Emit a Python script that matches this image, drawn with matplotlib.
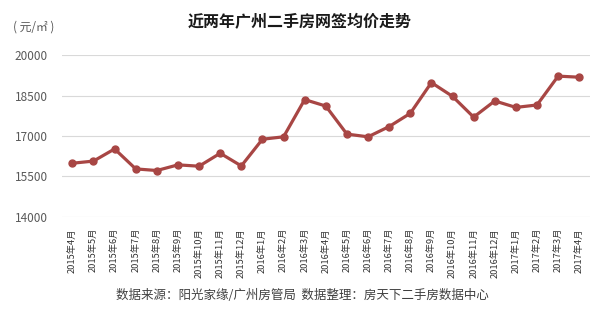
import matplotlib.pyplot as plt

plt.rcParams['font.family'] = ['Noto Sans CJK SC', 'DejaVu Sans']

months = ['2015年4月', '2015年5月', '2015年6月', '2015年7月', '2015年8月', '2015年9月',
          '2015年10月', '2015年11月', '2015年12月', '2016年1月', '2016年2月', '2016年3月',
          '2016年4月', '2016年5月', '2016年6月', '2016年7月', '2016年8月', '2016年9月',
          '2016年10月', '2016年11月', '2016年12月', '2017年1月', '2017年2月', '2017年3月',
          '2017年4月']
price = [15990, 16070, 16520, 15780, 15720, 15930, 15880, 16360, 15890, 16880, 16970,
         18350, 18110, 17070, 16970, 17350, 17840, 18980, 18470, 17700, 18300, 18060,
         18150, 19220, 19180]
yticks = [14000, 15500, 17000, 18500, 20000]

fig = plt.figure(figsize=(6, 3.13), dpi=100)
ax = fig.add_axes([0.103, 0.307, 0.880, 0.517])

x = list(range(len(months)))
ax.plot(x, price, color='#A84644', lw=2.3, marker='o', ms=5, zorder=3)

ax.set_xlim(-0.5, len(months) - 0.5)
ax.set_ylim(14000, 20000)
ax.set_yticks(yticks)
ax.set_yticklabels([str(v) for v in yticks], fontsize=8.5, color='#595959')
ax.set_xticks(x)
ax.set_xticklabels(months, rotation=90, fontsize=6.7, color='#333333')
ax.tick_params(length=0, pad=10)
ax.tick_params(axis='x', pad=8)
ax.grid(axis='y', color='#d9d9d9', lw=0.8)
for s in ax.spines.values():
    s.set_visible(False)

fig.text(0.5, 0.93, '近两年广州二手房网签均价走势', ha='center', va='center',
         fontsize=11.5, fontweight='bold', color='#1a1a1a')
fig.text(0.022, 0.913, '( 元/㎡ )', ha='left', va='center', fontsize=8.5, color='#595959')
fig.text(0.193, 0.057, '数据来源：阳光家缘/广州房管局  数据整理：房天下二手房数据中心',
         ha='left', va='center', fontsize=9, color='#404040')

fig.savefig('out.png', dpi=100)
